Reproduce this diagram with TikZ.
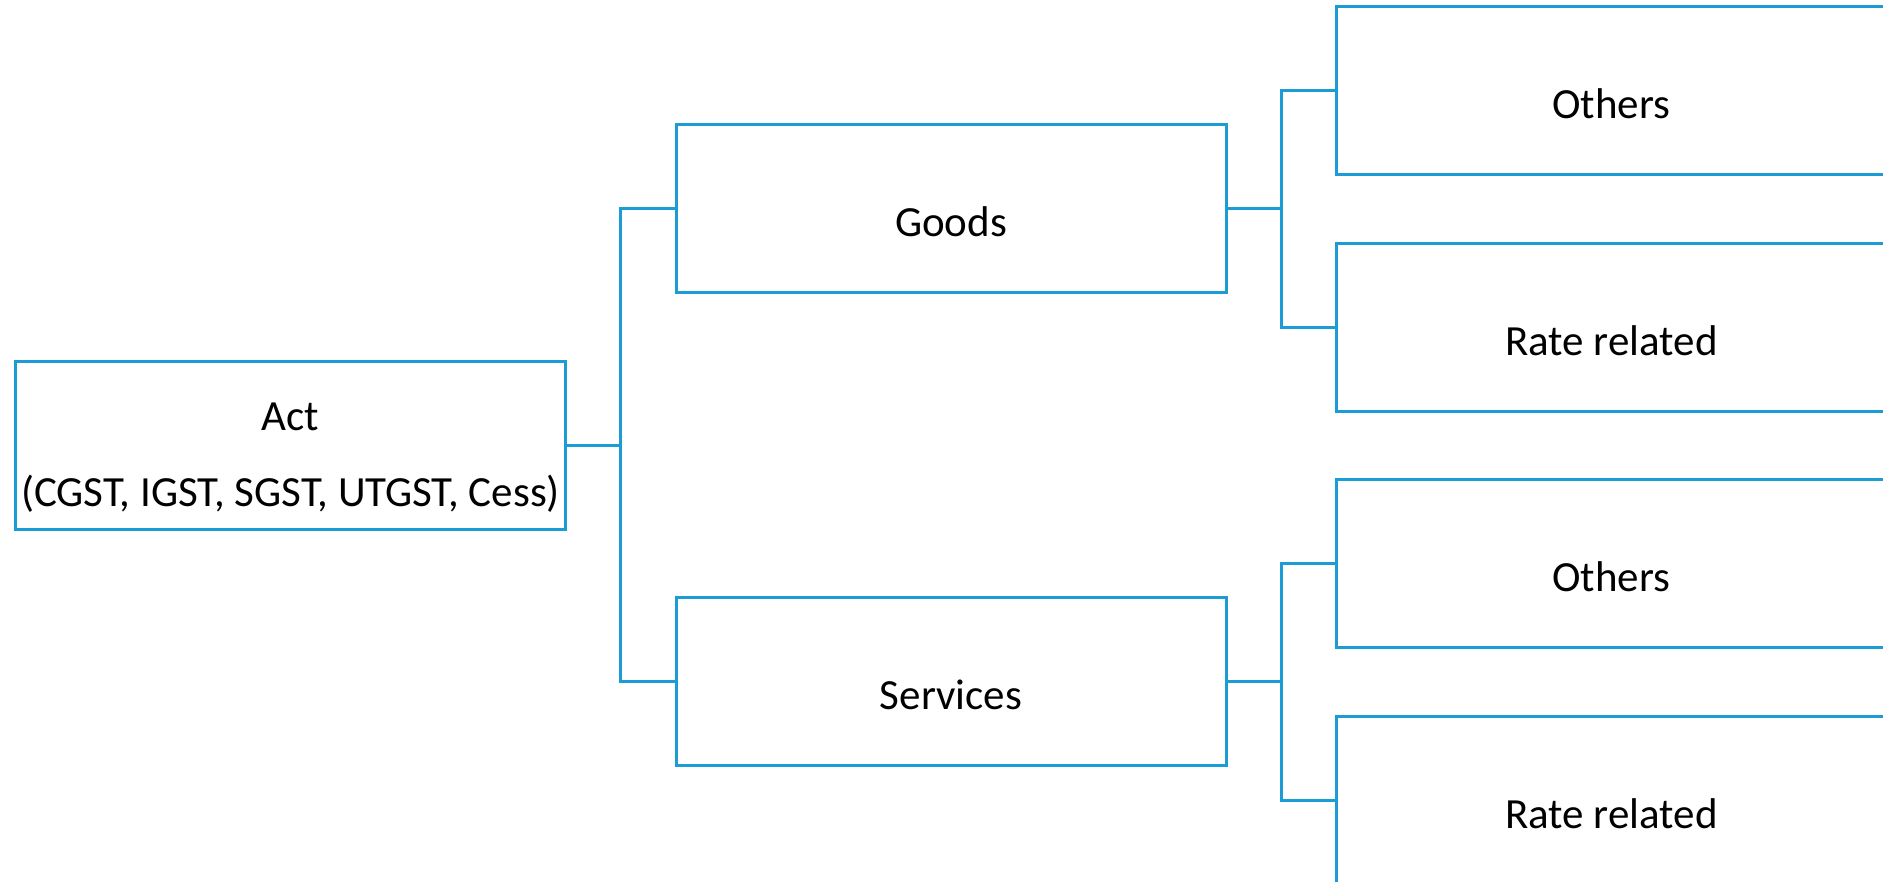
\documentclass[tikz,border=0pt]{standalone}
\usepackage{fontspec}
\setmainfont{Carlito}
\usepackage{tikz}
\usetikzlibrary{positioning}
\definecolor{gstblue}{RGB}{28,156,212}
\tikzset{every picture/.style={
  line width=3pt               % Thick blue rules.
  }
}

\begin{document}
\begin{tikzpicture}[
    x=1pt,y=1pt,
    node distance=107.4pt,
    taxbox/.style={
      rectangle,
      draw=gstblue,
      fill=white,
      inner sep=0pt,
      minimum width=550pt,
      minimum height=168pt,
      text height=56pt,        % Sits the text a little low, as in the slide.
      align=center,
      font=\fontsize{43pt}{76pt}\selectfont
    },
    link/.style={
      draw=gstblue
    }]

    \useasboundingbox (0,0) rectangle (1883,882);

    % Root of the classification.
    \node[taxbox,text height=128pt] (act) at (290.6,436.5)
      {Act\\(CGST, IGST, SGST, UTGST, Cess)};

    % Second level: supply type.
    \node[taxbox,right=of act,yshift=236.5pt]  (goods)    {Goods};
    \node[taxbox,right=of act,yshift=-236.5pt] (services) {Services};

    % Third level: notification kind.
    \node[taxbox,right=of goods,yshift=118.5pt]     (gothers) {Others};
    \node[taxbox,right=of goods,yshift=-118.5pt]    (grate)   {Rate related};
    \node[taxbox,right=of services,yshift=118.5pt]  (sothers) {Others};
    \node[taxbox,right=of services,yshift=-118.5pt] (srate)   {Rate related};

    % Elbow connectors.
    \draw[link] (act.east) -- ++(53.7pt,0) |- (goods.west);
    \draw[link] (act.east) -- ++(53.7pt,0) |- (services.west);
    \draw[link] (goods.east) -- ++(53.7pt,0) |- (gothers.west);
    \draw[link] (goods.east) -- ++(53.7pt,0) |- (grate.west);
    \draw[link] (services.east) -- ++(53.7pt,0) |- (sothers.west);
    \draw[link] (services.east) -- ++(53.7pt,0) |- (srate.west);
  \end{tikzpicture}
\end{document}
